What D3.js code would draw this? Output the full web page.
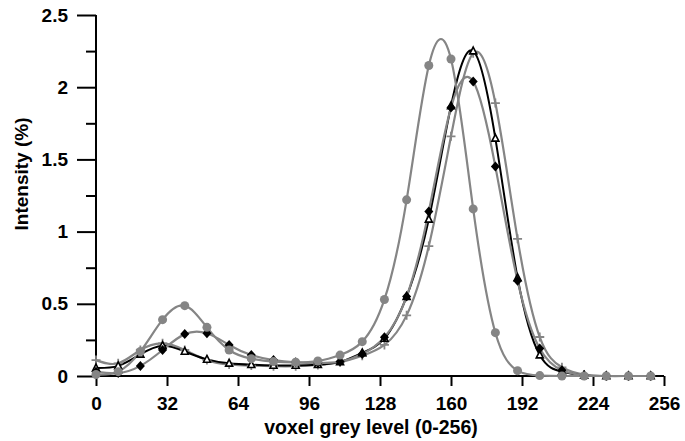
<!DOCTYPE html>
<html>
<head>
<meta charset="utf-8">
<script src="https://cdn.jsdelivr.net/npm/d3@7/dist/d3.min.js"></script>
<style>
  html, body { margin: 0; padding: 0; background: #fff; }
  svg { display: block; }
  text { font-family: "Liberation Sans", Arial, sans-serif; font-weight: bold; }
</style>
</head>
<body>
<svg id="chart" width="685" height="441"></svg>
<script>
// grey level bins
const greyLevels = [0,10,20,30,40,50,60,70,80,90,100,110,120,130,140,150,160,170,180,190,200,210,220,230,240,250];
// series: gray circles
const seriesCircles  = [0.01,0.03,0.17,0.39,0.487,0.337,0.18,0.12,0.10,0.095,0.104,0.145,0.238,0.53,1.22,2.15,2.195,1.157,0.30,0.037,0.003,0,0,0,0,0];
// series: black diamonds
const seriesDiamonds = [0.03,0.02,0.07,0.18,0.29,0.296,0.215,0.145,0.11,0.095,0.09,0.10,0.152,0.268,0.55,1.14,1.86,2.04,1.45,0.66,0.19,0.04,0.005,0,0,0];
// series: black open triangles
const seriesTriangles= [0.055,0.07,0.15,0.21,0.17,0.115,0.088,0.078,0.073,0.073,0.078,0.098,0.16,0.26,0.55,1.085,1.87,2.25,1.646,0.68,0.145,0.03,0.004,0,0,0];
// series: gray plus
const seriesPlus     = [0.11,0.088,0.18,0.226,0.18,0.11,0.08,0.072,0.068,0.068,0.076,0.095,0.14,0.215,0.42,0.9,1.66,2.235,1.89,0.95,0.27,0.06,0.01,0,0,0];

const xTicks = [0,32,64,96,128,160,192,224,256];
const yTicks = [0,0.5,1,1.5,2,2.5];
const yMinorTicks = [0.25,0.75,1.25,1.75,2.25];

const svg = d3.select("#chart");
const mLeft = 96, mRight = 664, mTop = 15, mBottom = 376;
const x = d3.scaleLinear().domain([0,256]).range([mLeft,mRight]);
const y = d3.scaleLinear().domain([0,2.5]).range([mBottom,mTop]);

const GRAY = "#858585";
const fontSize = 19;

// axes
const yAxis = d3.axisLeft(y).tickValues(yTicks).tickSize(19).tickPadding(9)
  .tickFormat(d => d3.format("")(d));
const gy = svg.append("g").attr("transform", `translate(${mLeft},0)`).call(yAxis);
const yMinor = d3.axisLeft(y).tickValues(yMinorTicks).tickSize(10).tickFormat("");
const gym = svg.append("g").attr("transform", `translate(${mLeft},0)`).call(yMinor);
const xAxis = d3.axisBottom(x).tickValues(xTicks).tickSize(10).tickPadding(11);
const gx = svg.append("g").attr("transform", `translate(0,${mBottom})`).call(xAxis);

[gy, gym, gx].forEach(g => {
  g.select(".domain").attr("stroke", "#000").attr("stroke-width", 2);
  g.selectAll(".tick line").attr("stroke", "#000").attr("stroke-width", 2);
  g.selectAll(".tick text").attr("fill", "#000").style("font-size", fontSize + "px")
    .style("font-family", '"Liberation Sans", Arial, sans-serif').style("font-weight", "bold");
});
gy.select(".domain").attr("d", `M0,${mBottom}V${mTop}`);
gym.select(".domain").remove();
gx.select(".domain").attr("d", `M${mLeft},0H${mRight}`);

// labels
svg.append("text").attr("x", 371).attr("y", 434).attr("text-anchor", "middle")
  .style("font-size", "19.5px").text("voxel grey level (0-256)");
svg.append("text").attr("transform", "translate(28,174) rotate(-90)").attr("text-anchor", "middle")
  .style("font-size", fontSize + "px").text("Intensity (%)");

const series = [
  { values: seriesPlus, line: GRAY, lw: 2.2, marker: "plus" },
  { values: seriesTriangles, line: "#000", lw: 2, marker: "triangle" },
  { values: seriesDiamonds, line: GRAY, lw: 2.2, marker: "diamond" },
  { values: seriesCircles, line: GRAY, lw: 2.2, marker: "circle" }
];

const line = d3.line().x((d, i) => x(greyLevels[i])).y(d => y(d)).curve(d3.curveNatural);

const g = svg.append("g");
series.forEach(s => {
  g.append("path").attr("d", line(s.values)).attr("fill", "none")
    .attr("stroke", s.line).attr("stroke-width", s.lw);
});
series.forEach(s => {
  const mg = g.append("g");
  s.values.forEach((v, i) => {
    const cx = x(greyLevels[i]), cy = y(v);
    if (s.marker === "circle") {
      mg.append("circle").attr("cx", cx).attr("cy", cy).attr("r", 4.5).attr("fill", GRAY);
    } else if (s.marker === "diamond") {
      mg.append("path").attr("d", `M${cx},${cy-5}L${cx+4.5},${cy}L${cx},${cy+5}L${cx-4.5},${cy}Z`).attr("fill", "#000");
    } else if (s.marker === "triangle") {
      mg.append("path").attr("d", `M${cx},${cy-4}L${cx+3.5},${cy+2.8}L${cx-3.5},${cy+2.8}Z`)
        .attr("fill", "#fff").attr("stroke", "#000").attr("stroke-width", 1.6);
    } else {
      mg.append("path").attr("d", `M${cx-4.5},${cy}H${cx+4.5}M${cx},${cy-4.5}V${cy+4.5}`)
        .attr("stroke", GRAY).attr("stroke-width", 1.8);
    }
  });
});
</script>
</body>
</html>
